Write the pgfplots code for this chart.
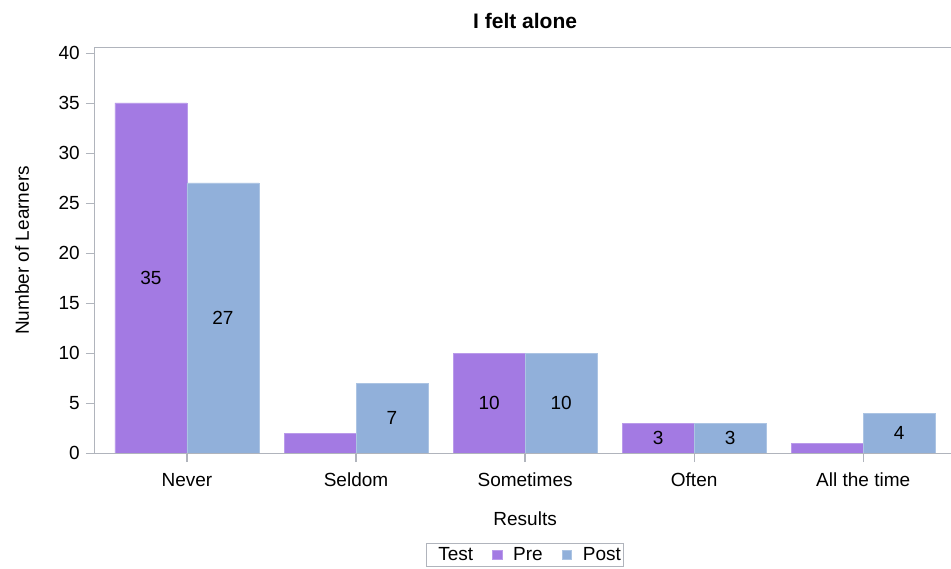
\documentclass[border=0pt]{standalone}
\usepackage{pgfplots}
\pgfplotsset{compat=1.18}
\usepackage{fontspec}
\setmainfont{Liberation Sans}
\definecolor{pre}{RGB}{163,122,227}
\definecolor{post}{RGB}{145,176,218}
\definecolor{axgray}{RGB}{176,180,188}
\pgfplotsset{lab/.style={
  nodes near coords,
  point meta=explicit symbolic,
  visualization depends on={rawy \as \rawy},
  every node near coord/.append style={anchor=center, yshift={-5pt*\rawy}, font=\fontsize{19}{21}\selectfont, text=black}}}
\begin{document}
\begin{tikzpicture}
\begin{axis}[
  name=ax,
  ybar,
  axis on top,
  scale only axis,
  width=856.8pt, height=405pt,
  xmin=-0.544, xmax=4.524,
  ymin=0, ymax=40.5,
  ytick={0,5,...,40},
  xtick={0,1,2,3,4},
  xticklabels={Never,Seldom,Sometimes,Often,All the time},
  xmajorticks=true,
  xtick pos=bottom, ytick pos=left,
  tick align=outside,
  major tick length=9pt,
  ytick style={color=axgray, line width=0.8pt},
  xtick style={color=axgray, line width=1.2pt},
  axis line style={axgray, line width=1pt},
  /pgf/number format/assume math mode=true,
  yticklabel style={anchor=east, inner sep=0pt, xshift=-6pt, font=\fontsize{19}{21}\selectfont},
  xticklabel style={anchor=base, inner sep=0pt, yshift=-24pt, font=\fontsize{19}{21}\selectfont},
  title={I felt alone},
  title style={at={(axis description cs:0.502,1)}, anchor=center, yshift=21pt, font=\bfseries\fontsize{21}{23}\selectfont},
  xlabel={Results},
  xlabel style={at={(axis description cs:0.502,0)}, anchor=center, yshift=-66pt, font=\fontsize{19}{21}\selectfont},
  ylabel={Number of Learners},
  ylabel style={at={(axis description cs:0,0.5)}, anchor=center, yshift=73pt, font=\fontsize{19}{21}\selectfont},
  legend columns=-1,
  legend style={at={(axis description cs:0.502,-0.2222)}, anchor=north, draw=axgray, line width=1pt,
    font=\fontsize{19}{21}\selectfont, inner xsep=1pt, inner ysep=2pt,
    /tikz/every odd column/.append style={column sep=9pt},
    /tikz/every even column/.append style={column sep=17pt}},
  legend image code/.code={\fill[#1] (0pt,-4.5pt) rectangle (9.5pt,4.5pt);},
]
\addlegendimage{empty legend}
\addlegendentry{Test}
\addplot[lab, fill=pre, draw=pre!75!white, line width=0.6pt, bar width=72pt, bar shift=-36pt]
  coordinates {(0,35)[35] (1,2)[] (2,10)[10] (3,3)[3] (4,1)[]};
\addlegendentry{Pre}
\addplot[lab, fill=post, draw=post!75!white, line width=0.6pt, bar width=72pt, bar shift=36pt]
  coordinates {(0,27)[27] (1,7)[7] (2,10)[10] (3,3)[3] (4,4)[4]};
\addlegendentry{Post}
\end{axis}
\pgfresetboundingbox
\useasboundingbox ([shift={(-95pt,-115pt)}]ax.south west) rectangle ([shift={(-0.8pt,48pt)}]ax.north east);
\end{tikzpicture}
\end{document}
